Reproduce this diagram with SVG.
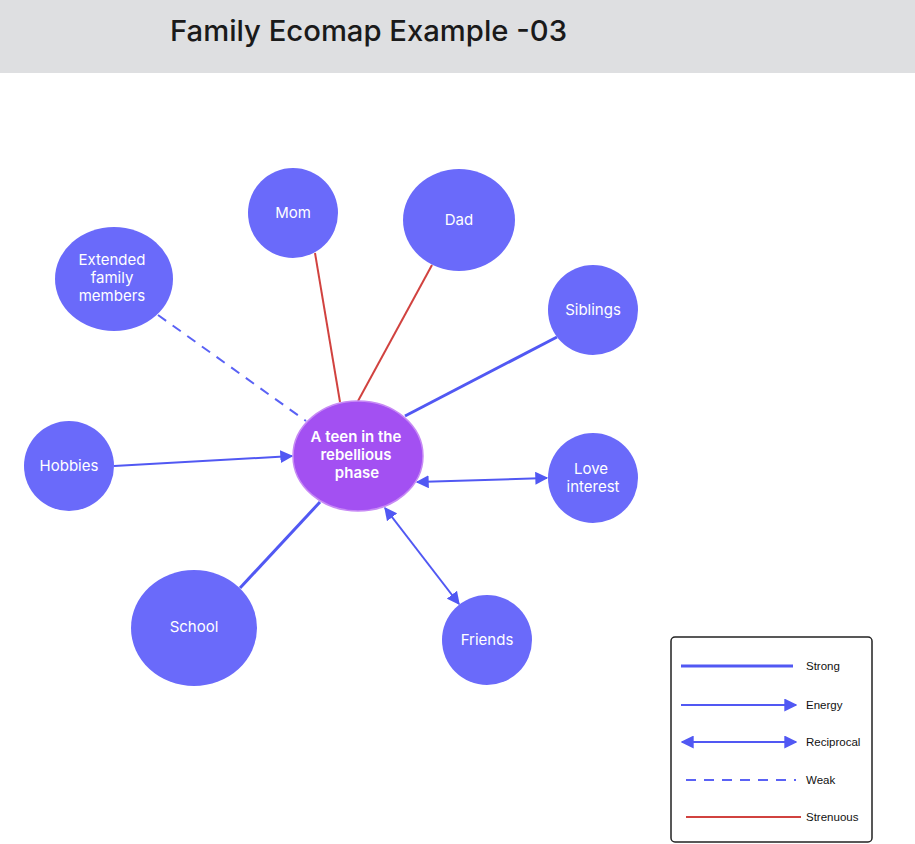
<svg xmlns="http://www.w3.org/2000/svg" width="915" height="844" viewBox="0 0 915 844">
<defs>
<style>
.node{fill:#6a6afa;}
.center{fill:#a350f2;stroke:#c78af5;stroke-width:1.5;}
.nt{font-family:Inter,"Liberation Sans",sans-serif;font-size:15px;fill:#ffffff;text-anchor:middle;}
.ct{font-family:Inter,"Liberation Sans",sans-serif;font-size:15px;font-weight:600;fill:#ffffff;text-anchor:middle;}
.strong{stroke:#5158f3;stroke-width:3;fill:none;}
.energy{stroke:#5158f3;stroke-width:2;fill:none;}
.weak{stroke:#5a62f5;stroke-width:2;fill:none;stroke-dasharray:10 8;}
.stren{stroke:#d1423f;stroke-width:2;fill:none;}
.lt{font-family:"Liberation Sans",Arial,sans-serif;font-size:11.5px;fill:#111;}
</style>
<marker id="ah" viewBox="0 0 10 10" refX="9" refY="5" markerWidth="6.5" markerHeight="6.5" markerUnits="strokeWidth" orient="auto-start-reverse">
<path d="M0,0 L10,5 L0,10 z" fill="#5158f3"/>
</marker>
</defs>
<rect x="0" y="0" width="915" height="844" fill="#ffffff"/>
<rect x="0" y="0" width="915" height="73" fill="#dedfe1"/>
<text x="170" y="41" font-family="Inter,'Liberation Sans',sans-serif" font-size="29" font-weight="500" fill="#1a1a1a" textLength="397" lengthAdjust="spacingAndGlyphs">Family Ecomap Example -03</text>

<g id="connectors">
<line class="stren" x1="315" y1="253" x2="340" y2="402"/>
<line class="stren" x1="432" y1="265" x2="358" y2="401"/>
<line class="weak" x1="158" y1="315" x2="306" y2="421"/>
<line class="strong" x1="557" y1="337" x2="405" y2="416"/>
<line class="energy" x1="114" y1="466" x2="292" y2="456" marker-end="url(#ah)"/>
<line class="energy" x1="417" y1="482" x2="547" y2="478" marker-start="url(#ah)" marker-end="url(#ah)"/>
<line class="energy" x1="385" y1="508" x2="459" y2="604" marker-start="url(#ah)" marker-end="url(#ah)"/>
<line class="strong" x1="240" y1="588" x2="320" y2="502"/>
</g>

<g id="mom"><circle class="node" cx="293" cy="213" r="45"/><text class="nt" x="293" y="218">Mom</text></g>
<g id="dad"><ellipse class="node" cx="459" cy="220" rx="56" ry="51"/><text class="nt" x="459" y="225">Dad</text></g>
<g id="extended"><ellipse class="node" cx="114" cy="279" rx="59" ry="52"/><text class="nt" x="112" y="265">Extended</text><text class="nt" x="112" y="283">family</text><text class="nt" x="112" y="301">members</text></g>
<g id="siblings"><circle class="node" cx="593" cy="310" r="45"/><text class="nt" x="593" y="315">Siblings</text></g>
<g id="hobbies"><circle class="node" cx="69" cy="466" r="45"/><text class="nt" x="69" y="471">Hobbies</text></g>
<g id="love"><circle class="node" cx="593" cy="478" r="45"/><text class="nt" x="591" y="474">Love</text><text class="nt" x="593" y="492">interest</text></g>
<g id="school"><ellipse class="node" cx="194" cy="628" rx="63" ry="58"/><text class="nt" x="194" y="632">School</text></g>
<g id="friends"><circle class="node" cx="487" cy="640" r="45"/><text class="nt" x="487" y="645">Friends</text></g>
<g id="teen"><ellipse class="center" cx="358" cy="456" rx="65" ry="55"/><text class="ct" x="356" y="442">A teen in the</text><text class="ct" x="356" y="460">rebellious</text><text class="ct" x="357" y="478">phase</text></g>

<g id="legend">
<rect x="671" y="637" width="201" height="205" rx="4" fill="#ffffff" stroke="#222" stroke-width="1.5"/>
<line class="strong" x1="681" y1="666" x2="793" y2="666"/>
<text class="lt" x="806" y="670">Strong</text>
<line class="energy" x1="681" y1="705" x2="796" y2="705" marker-end="url(#ah)"/>
<text class="lt" x="806" y="709">Energy</text>
<line class="energy" x1="682" y1="742" x2="796" y2="742" marker-start="url(#ah)" marker-end="url(#ah)"/>
<text class="lt" x="806" y="746">Reciprocal</text>
<line class="weak" x1="686" y1="780" x2="796" y2="780"/>
<text class="lt" x="806" y="784">Weak</text>
<line class="stren" x1="686" y1="817" x2="801" y2="817"/>
<text class="lt" x="806" y="821">Strenuous</text>
</g>
</svg>
